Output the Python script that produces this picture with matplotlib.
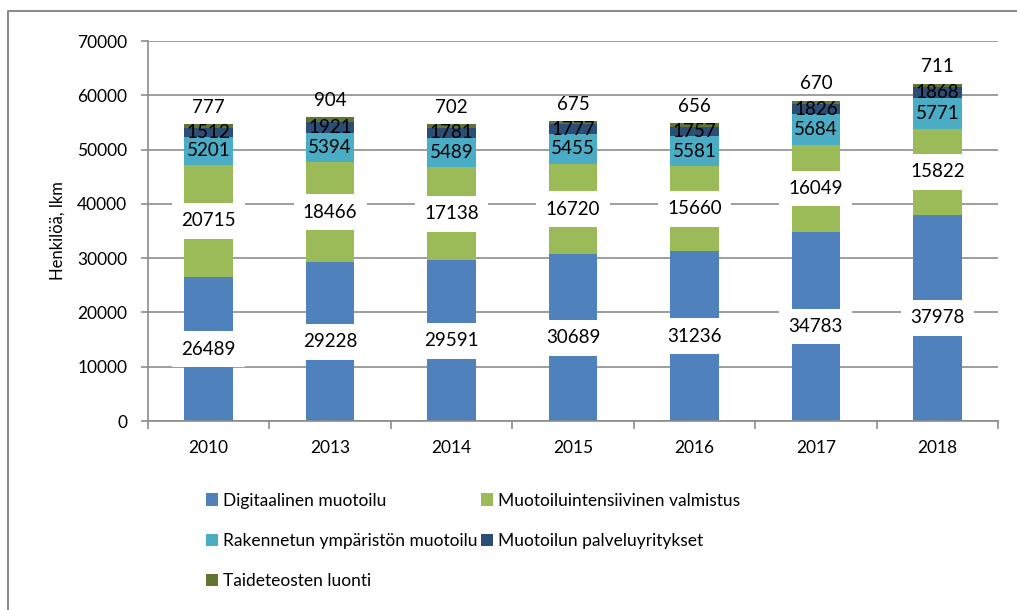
import matplotlib.pyplot as plt
from matplotlib.lines import Line2D
import numpy as np

plt.rcParams['font.family'] = ['Lato', 'DejaVu Sans']

years = ['2010', '2013', '2014', '2015', '2016', '2017', '2018']
digitaalinen = [26489, 29228, 29591, 30689, 31236, 34783, 37978]
valmistus = [20715, 18466, 17138, 16720, 15660, 16049, 15822]
rakennettu = [5201, 5394, 5489, 5455, 5581, 5684, 5771]
palvelu = [1512, 1921, 1781, 1777, 1757, 1826, 1868]
taide = [777, 904, 702, 675, 656, 670, 711]

series = [
    ('Digitaalinen muotoilu', digitaalinen, '#4F81BD'),
    ('Muotoiluintensiivinen valmistus', valmistus, '#9BBB59'),
    ('Rakennetun ympäristön muotoilu', rakennettu, '#4BACC6'),
    ('Muotoilun palveluyritykset', palvelu, '#2C4D75'),
    ('Taideteosten luonti', taide, '#5F7530'),
]

fig = plt.figure(figsize=(10.17, 6.10), dpi=100)
ax = fig.add_axes([148/1017, 1 - 421/610, (998 - 148)/1017, (421 - 41)/610])

x = np.arange(len(years))
bottom = np.zeros(len(years))
handles = {}
for i, (name, vals, col) in enumerate(series):
    vals = np.array(vals)
    bars = ax.bar(x, vals, 0.4, bottom=bottom, color=col, label=name, zorder=2)
    handles[name] = bars
    for xi, b, v in zip(x, bottom, vals):
        if i < 2:
            # isot luvut valkoisella laatikolla
            ax.text(xi, b + v / 2, str(v), ha='center', va='center', fontsize=13.5,
                    zorder=5, bbox=dict(boxstyle='square,pad=0.5', fc='white', ec='none'))
        elif i < 4:
            ax.text(xi, b + v / 2, str(v), ha='center', va='center', fontsize=13.5, zorder=5)
        else:
            ax.annotate(str(v), (xi, b + v), xytext=(0, 12), textcoords='offset points',
                        ha='center', va='center', fontsize=13.5, zorder=5)
    bottom += vals

grid_c = '#8c8c8c'
ax.set_ylim(0, 70000)
ax.set_xlim(-0.5, len(years) - 0.5)
ax.set_yticks(range(0, 70001, 10000))
ax.yaxis.grid(True, color=grid_c, linewidth=1.2)
ax.set_axisbelow(True)
ax.tick_params(axis='y', direction='out', length=5, width=1.2, color=grid_c, pad=10, labelsize=12.5)

ax.set_xticks(x)
ax.set_xticklabels(years)
ax.set_xticks(np.arange(-0.5, len(years)), minor=True)
ax.tick_params(axis='x', which='major', length=0, pad=14, labelsize=12.5)
ax.tick_params(axis='x', which='minor', direction='out', length=6, width=1.2, color=grid_c)

for s in ['top', 'right']:
    ax.spines[s].set_visible(False)
for s in ['left', 'bottom']:
    ax.spines[s].set_color(grid_c)
    ax.spines[s].set_linewidth(1.2)

ax.set_ylabel('Henkilöä, lkm', fontsize=12, labelpad=8)

order = ['Digitaalinen muotoilu', 'Rakennetun ympäristön muotoilu', 'Taideteosten luonti',
         'Muotoiluintensiivinen valmistus', 'Muotoilun palveluyritykset']
fig.legend([handles[n] for n in order], order, ncol=2, loc='upper left',
           bbox_to_anchor=(190/1017, 1 - 477/610), frameon=False, fontsize=12.5,
           handlelength=0.7, handleheight=0.7, handletextpad=0.3,
           labelspacing=1.4, columnspacing=0.2)

fig.add_artist(Line2D([8/1017, 8/1017, 1], [0, 1 - 11/610, 1 - 11/610],
                      color='#8c8c8c', linewidth=1.5))

fig.savefig('out.png', dpi=100)
